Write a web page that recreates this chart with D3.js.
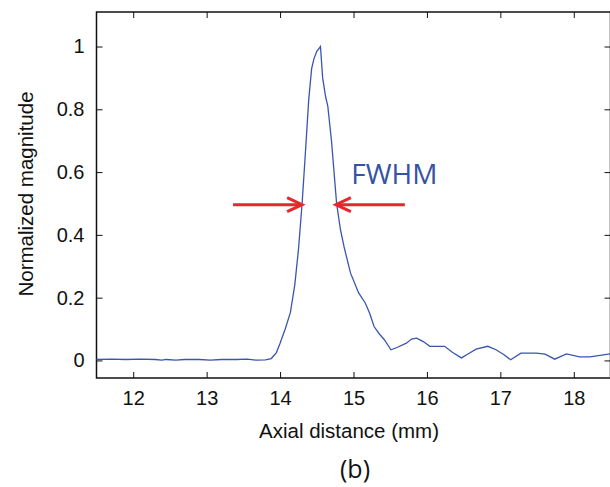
<!DOCTYPE html>
<html>
<head>
<meta charset="utf-8">
<title>FWHM axial profile</title>
<script src="https://d3js.org/d3.v7.min.js"></script>
<style>
 body { margin: 0; background: #fff; }
 .tick-label { font: 20px "Liberation Sans", Arial, sans-serif; fill: #111; }
 .axis-title { font: 20.5px "Liberation Sans", Arial, sans-serif; fill: #111; }
 .note { font: 28px "Open Sans", sans-serif; fill: #3553a5; }
 .caption { font: 25px "Open Sans", sans-serif; fill: #111; }
</style>
</head>
<body>
<div id="chart"></div>
<script>
// axial distance (mm) and normalized magnitude
var distance = [11.5, 11.7, 11.9, 12.1, 12.3, 12.39, 12.45, 12.58, 12.7, 12.9,
  13.05, 13.2, 13.4, 13.55, 13.67, 13.8, 13.88, 13.95, 14.0, 14.07,
  14.14, 14.2, 14.25, 14.3, 14.35, 14.39, 14.43, 14.46, 14.5, 14.55,
  14.58, 14.62, 14.65, 14.7, 14.77, 14.82, 14.87, 14.96, 15.07, 15.16,
  15.22, 15.28, 15.35, 15.42, 15.51, 15.6, 15.72, 15.79, 15.86, 15.95,
  16.04, 16.12, 16.24, 16.35, 16.47, 16.57, 16.67, 16.83, 16.94, 17.05,
  17.14, 17.28, 17.49, 17.61, 17.74, 17.9, 18.08, 18.22, 18.5];
var magnitude = [0.003, 0.004, 0.003, 0.004, 0.003, 0.001, 0.003, 0.001, 0.003, 0.003,
  0.001, 0.003, 0.003, 0.004, 0.001, 0.002, 0.006, 0.025, 0.055, 0.1,
  0.152, 0.24, 0.352, 0.5, 0.68, 0.83, 0.93, 0.96, 0.985, 1.0,
  0.9, 0.84, 0.81, 0.7, 0.5, 0.42, 0.363, 0.278, 0.215, 0.183,
  0.15, 0.108, 0.085, 0.066, 0.034, 0.042, 0.055, 0.068, 0.071, 0.06,
  0.045, 0.045, 0.045, 0.025, 0.008, 0.022, 0.036, 0.045, 0.034, 0.018,
  0.002, 0.023, 0.023, 0.02, 0.004, 0.021, 0.011, 0.011, 0.021];

var xTicks = [12, 13, 14, 15, 16, 17, 18];
var yTicks = [0, 0.2, 0.4, 0.6, 0.8, 1];

// FWHM arrows: tail and tip positions (mm) at half maximum
var arrowTails = [13.36, 15.70];
var arrowTips = [14.30, 14.76];
var halfLevel = 0.496;

var width = 610, height = 487;
var margin = {top: 12, left: 96.5, bottom: 109, right: -0.5};
var innerW = width - margin.left - margin.right;
var innerH = height - margin.top - margin.bottom;

var x = d3.scaleLinear().domain([11.5, 18.5]).range([0, innerW]);
var y = d3.scaleLinear().domain([-0.056, 1.11]).range([innerH, 0]);

var svg = d3.select("#chart").append("svg")
  .attr("width", width)
  .attr("height", height)
  .append("g")
  .attr("transform", "translate(" + margin.left + "," + margin.top + ")");

// frame
svg.append("rect")
  .attr("width", innerW).attr("height", innerH)
  .attr("fill", "none").attr("stroke", "#111").attr("stroke-width", 1.5);

// inward ticks on all four sides
var tk = 6;
svg.append("g").attr("transform", "translate(0," + innerH + ")")
  .call(d3.axisBottom(x).tickValues(xTicks).tickSize(-tk).tickPadding(13).tickFormat(d3.format("d")))
  .call(function(g) { g.select(".domain").remove(); });
svg.append("g")
  .call(d3.axisTop(x).tickValues(xTicks).tickSize(-tk).tickFormat(""))
  .call(function(g) { g.select(".domain").remove(); });
svg.append("g")
  .call(d3.axisLeft(y).tickValues(yTicks).tickSize(-tk).tickPadding(12).tickFormat(d3.format("")))
  .call(function(g) { g.select(".domain").remove(); });
svg.append("g").attr("transform", "translate(" + innerW + ",0)")
  .call(d3.axisRight(y).tickValues(yTicks).tickSize(-tk).tickFormat(""))
  .call(function(g) { g.select(".domain").remove(); });

svg.selectAll(".tick line").attr("stroke", "#111").attr("stroke-width", 1);
svg.selectAll(".tick text").attr("class", "tick-label").attr("font-size", null).attr("font-family", null);

// profile
var pts = distance.map(function(d, i) { return [d, magnitude[i]]; });
svg.append("path")
  .datum(pts)
  .attr("fill", "none")
  .attr("stroke", "#3a55b0")
  .attr("stroke-width", 1.3)
  .attr("d", d3.line().x(function(d) { return x(d[0]); }).y(function(d) { return y(d[1]); }));

// FWHM arrows
var red = "#e8262d";
arrowTails.forEach(function(t, i) {
  var tip = arrowTips[i];
  var dir = tip > t ? 1 : -1;
  var ty = y(halfLevel);
  svg.append("line")
    .attr("x1", x(t)).attr("y1", ty)
    .attr("x2", x(tip) - dir * 1.5).attr("y2", ty)
    .attr("stroke", red).attr("stroke-width", 3);
  svg.append("polyline")
    .attr("points", [[x(tip) - dir * 15, ty - 7], [x(tip), ty], [x(tip) - dir * 15, ty + 7]].join(" "))
    .attr("fill", "none").attr("stroke", red).attr("stroke-width", 3)
    .attr("stroke-linejoin", "miter");
});

svg.append("text")
  .attr("class", "note")
  .attr("x", x(14.97))
  .attr("y", y(0.561))
  .text("FWHM");

// axis titles
svg.append("text")
  .attr("class", "axis-title")
  .attr("text-anchor", "middle")
  .attr("x", 349 - margin.left)
  .attr("y", 438 - margin.top)
  .text("Axial distance (mm)");

svg.append("text")
  .attr("class", "axis-title")
  .attr("text-anchor", "middle")
  .attr("transform", "translate(" + (33 - margin.left) + "," + (194 - margin.top) + ") rotate(-90)")
  .text("Normalized magnitude");

svg.append("text")
  .attr("class", "caption")
  .attr("text-anchor", "middle")
  .attr("x", 355 - margin.left)
  .attr("y", 478 - margin.top)
  .text("(b)");
</script>
</body>
</html>
